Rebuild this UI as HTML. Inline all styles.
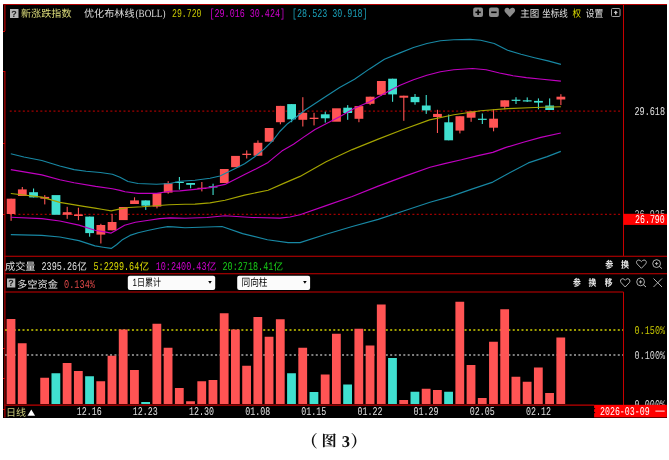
<!DOCTYPE html>
<html><head><meta charset="utf-8"><title>chart</title>
<style>
html,body{margin:0;padding:0;background:#fff;}
body{width:669px;height:460px;position:relative;overflow:hidden;}
</style></head><body>
<svg width="669" height="460" viewBox="0 0 669 460" text-rendering="geometricPrecision" style="position:absolute;left:0;top:0;will-change:transform">
<rect x="3" y="4" width="664" height="414" fill="#000"/>
<g shape-rendering="crispEdges">
<rect x="3" y="4" width="664" height="1.2" fill="#b40000"/>
</g>
<rect x="4.1" y="4" width="1.5" height="27" fill="#900000"/>
<rect x="4.1" y="71" width="1.5" height="346.5" fill="#900000"/>
<g shape-rendering="crispEdges">
<rect x="3" y="30.5" width="2" height="1" fill="#d00000"/>
<rect x="3" y="71" width="2" height="1" fill="#d00000"/>
<rect x="3" y="143" width="2" height="1" fill="#d00000"/>
<rect x="3" y="214" width="2" height="1" fill="#d00000"/>
<rect x="3" y="347.5" width="2" height="1" fill="#d00000"/>
<rect x="3" y="378" width="2" height="1" fill="#d00000"/>
<rect x="3" y="408.5" width="2" height="1" fill="#d00000"/>
<rect x="623" y="5" width="1.2" height="251" fill="#c80000"/>
<rect x="623" y="292" width="1.2" height="112.5" fill="#c80000"/>
</g>
<rect x="4" y="255.7" width="663" height="1.2" fill="#a80000"/>
<rect x="4" y="273.1" width="663" height="1.2" fill="#a80000"/>
<rect x="4" y="291.4" width="619.5" height="1.2" fill="#a80000"/>
<rect x="4" y="404.4" width="590" height="1.5" fill="#a00000"/>
<line x1="9.7" y1="111.1" x2="622" y2="111.1" stroke="#a00000" stroke-width="1.3" stroke-dasharray="2,2.377"/>
<line x1="9.7" y1="214.4" x2="622" y2="214.4" stroke="#a00000" stroke-width="1.3" stroke-dasharray="2,2.377"/>
<line x1="5" y1="330" x2="623" y2="330" stroke="#9c9c00" stroke-width="1.8" stroke-dasharray="2,2.377"/>
<line x1="5" y1="355" x2="623" y2="355" stroke="#a8a8a8" stroke-width="1.6" stroke-dasharray="2,2.377"/>
<rect x="6.6" y="319" width="8.8" height="85" fill="#ff5454"/>
<rect x="17.82" y="343.25" width="8.8" height="60.75" fill="#ff5454"/>
<rect x="40.26" y="377.75" width="8.8" height="26.25" fill="#ff5454"/>
<rect x="51.48" y="373.25" width="8.8" height="30.75" fill="#40e0d0"/>
<rect x="62.7" y="363" width="8.8" height="41" fill="#ff5454"/>
<rect x="73.92" y="371" width="8.8" height="33" fill="#ff5454"/>
<rect x="85.14" y="376.25" width="8.8" height="27.75" fill="#40e0d0"/>
<rect x="96.36" y="381.25" width="8.8" height="22.75" fill="#ff5454"/>
<rect x="107.58" y="355.75" width="8.8" height="48.25" fill="#ff5454"/>
<rect x="118.8" y="329.5" width="8.8" height="74.5" fill="#ff5454"/>
<rect x="130.02" y="370" width="8.8" height="34" fill="#ff5454"/>
<rect x="141.24" y="402" width="8.8" height="2" fill="#40e0d0"/>
<rect x="152.46" y="323.75" width="8.8" height="80.25" fill="#ff5454"/>
<rect x="163.68" y="347.75" width="8.8" height="56.25" fill="#ff5454"/>
<rect x="174.9" y="388" width="8.8" height="16" fill="#ff5454"/>
<rect x="186.12" y="401.25" width="8.8" height="2.75" fill="#ff5454"/>
<rect x="197.34" y="381.25" width="8.8" height="22.75" fill="#ff5454"/>
<rect x="208.56" y="380" width="8.8" height="24" fill="#ff5454"/>
<rect x="219.78" y="313.25" width="8.8" height="90.75" fill="#ff5454"/>
<rect x="231" y="329.5" width="8.8" height="74.5" fill="#ff5454"/>
<rect x="242.22" y="365.75" width="8.8" height="38.25" fill="#ff5454"/>
<rect x="253.44" y="317" width="8.8" height="87" fill="#ff5454"/>
<rect x="264.66" y="336.75" width="8.8" height="67.25" fill="#ff5454"/>
<rect x="275.88" y="319.25" width="8.8" height="84.75" fill="#ff5454"/>
<rect x="287.1" y="373.25" width="8.8" height="30.75" fill="#40e0d0"/>
<rect x="298.32" y="347.75" width="8.8" height="56.25" fill="#ff5454"/>
<rect x="309.54" y="392" width="8.8" height="12" fill="#40e0d0"/>
<rect x="320.76" y="374.5" width="8.8" height="29.5" fill="#ff5454"/>
<rect x="331.98" y="333.75" width="8.8" height="70.25" fill="#ff5454"/>
<rect x="343.2" y="384.5" width="8.8" height="19.5" fill="#40e0d0"/>
<rect x="354.42" y="328.75" width="8.8" height="75.25" fill="#ff5454"/>
<rect x="365.64" y="345.5" width="8.8" height="58.5" fill="#ff5454"/>
<rect x="376.86" y="304.5" width="8.8" height="99.5" fill="#ff5454"/>
<rect x="388.08" y="358" width="8.8" height="46" fill="#40e0d0"/>
<rect x="399.3" y="400" width="8.8" height="4" fill="#ff5454"/>
<rect x="410.52" y="391.75" width="8.8" height="12.25" fill="#40e0d0"/>
<rect x="421.74" y="388.75" width="8.8" height="15.25" fill="#ff5454"/>
<rect x="432.96" y="390" width="8.8" height="14" fill="#ff5454"/>
<rect x="444.18" y="391.75" width="8.8" height="12.25" fill="#40e0d0"/>
<rect x="455.4" y="301.75" width="8.8" height="102.25" fill="#ff5454"/>
<rect x="466.62" y="365" width="8.8" height="39" fill="#ff5454"/>
<rect x="477.84" y="398" width="8.8" height="6" fill="#ff5454"/>
<rect x="489.06" y="341.75" width="8.8" height="62.25" fill="#ff5454"/>
<rect x="500.28" y="309.25" width="8.8" height="94.75" fill="#ff5454"/>
<rect x="511.5" y="376.75" width="8.8" height="27.25" fill="#ff5454"/>
<rect x="522.72" y="381.75" width="8.8" height="22.25" fill="#ff5454"/>
<rect x="533.94" y="367.5" width="8.8" height="36.5" fill="#ff5454"/>
<rect x="545.16" y="393" width="8.8" height="11" fill="#ff5454"/>
<rect x="556.38" y="337.5" width="8.8" height="66.5" fill="#ff5454"/>
<rect x="10.55" y="198.7" width="1.1" height="22.1" fill="#ff5454"/>
<rect x="6.7" y="198.7" width="8.8" height="15.3" fill="#ff5454"/>
<rect x="21.77" y="187" width="1.1" height="9" fill="#ff5454"/>
<rect x="17.92" y="189.4" width="8.8" height="6.6" fill="#ff5454"/>
<rect x="32.99" y="188.5" width="1.1" height="8.9" fill="#40e0d0"/>
<rect x="29.14" y="192.2" width="8.8" height="5.2" fill="#40e0d0"/>
<rect x="44.21" y="195.1" width="1.1" height="9.3" fill="#ff5454"/>
<rect x="40.36" y="196.9" width="8.8" height="1.8" fill="#ff5454"/>
<rect x="51.58" y="195.1" width="8.8" height="19.7" fill="#40e0d0"/>
<rect x="66.65" y="206.8" width="1.1" height="12" fill="#ff5454"/>
<rect x="62.8" y="212.2" width="8.8" height="2.6" fill="#ff5454"/>
<rect x="77.87" y="207.7" width="1.1" height="12.5" fill="#ff5454"/>
<rect x="74.02" y="214.4" width="8.8" height="1.6" fill="#ff5454"/>
<rect x="89.09" y="216.6" width="1.1" height="20.1" fill="#40e0d0"/>
<rect x="85.24" y="216.6" width="8.8" height="16.5" fill="#40e0d0"/>
<rect x="100.31" y="223.8" width="1.1" height="19.7" fill="#ff5454"/>
<rect x="96.46" y="225" width="8.8" height="9.6" fill="#ff5454"/>
<rect x="111.53" y="213.8" width="1.1" height="16.5" fill="#ff5454"/>
<rect x="107.68" y="222" width="8.8" height="8.3" fill="#ff5454"/>
<rect x="118.9" y="207" width="8.8" height="13.1" fill="#ff5454"/>
<rect x="133.97" y="197.3" width="1.1" height="6.7" fill="#ff5454"/>
<rect x="130.12" y="200.4" width="8.8" height="3.6" fill="#ff5454"/>
<rect x="145.19" y="200.4" width="1.1" height="9.5" fill="#40e0d0"/>
<rect x="141.34" y="200.4" width="8.8" height="5.3" fill="#40e0d0"/>
<rect x="156.41" y="193.2" width="1.1" height="15.2" fill="#ff5454"/>
<rect x="152.56" y="193.2" width="8.8" height="13.4" fill="#ff5454"/>
<rect x="167.63" y="181.2" width="1.1" height="12.5" fill="#ff5454"/>
<rect x="163.78" y="183.3" width="8.8" height="9.3" fill="#ff5454"/>
<rect x="178.85" y="177" width="1.1" height="12.6" fill="#40e0d0"/>
<rect x="175" y="181.8" width="8.8" height="1.2" fill="#40e0d0"/>
<rect x="190.07" y="183" width="1.1" height="5.3" fill="#40e0d0"/>
<rect x="186.22" y="183" width="8.8" height="1.8" fill="#40e0d0"/>
<rect x="201.29" y="182" width="1.1" height="9.4" fill="#ff5454"/>
<rect x="197.44" y="187.8" width="8.8" height="1.2" fill="#ff5454"/>
<rect x="212.51" y="183.7" width="1.1" height="11.3" fill="#40e0d0"/>
<rect x="208.66" y="186.3" width="8.8" height="1.2" fill="#40e0d0"/>
<rect x="219.88" y="169" width="8.8" height="14" fill="#ff5454"/>
<rect x="231.1" y="155.9" width="8.8" height="11.3" fill="#ff5454"/>
<rect x="246.17" y="150.4" width="1.1" height="8.1" fill="#ff5454"/>
<rect x="242.32" y="153.7" width="8.8" height="1.3" fill="#ff5454"/>
<rect x="257.39" y="140.4" width="1.1" height="15.3" fill="#ff5454"/>
<rect x="253.54" y="142.8" width="8.8" height="12.9" fill="#ff5454"/>
<rect x="264.76" y="128" width="8.8" height="13.7" fill="#ff5454"/>
<rect x="279.83" y="105.9" width="1.1" height="18.4" fill="#ff5454"/>
<rect x="275.98" y="105.9" width="8.8" height="16.3" fill="#ff5454"/>
<rect x="291.05" y="104.1" width="1.1" height="18.1" fill="#40e0d0"/>
<rect x="287.2" y="104.1" width="8.8" height="15.2" fill="#40e0d0"/>
<rect x="302.27" y="97.2" width="1.1" height="29.3" fill="#ff5454"/>
<rect x="298.42" y="112.8" width="8.8" height="7" fill="#ff5454"/>
<rect x="313.49" y="112.8" width="1.1" height="12.6" fill="#ff5454"/>
<rect x="309.64" y="117.7" width="8.8" height="1.3" fill="#ff5454"/>
<rect x="324.71" y="111.7" width="1.1" height="10.9" fill="#40e0d0"/>
<rect x="320.86" y="114.3" width="8.8" height="4" fill="#40e0d0"/>
<rect x="332.08" y="108.3" width="8.8" height="13.4" fill="#ff5454"/>
<rect x="347.15" y="105.1" width="1.1" height="14.7" fill="#40e0d0"/>
<rect x="343.3" y="107.7" width="8.8" height="5.3" fill="#40e0d0"/>
<rect x="358.37" y="106.1" width="1.1" height="16.1" fill="#ff5454"/>
<rect x="354.52" y="106.1" width="8.8" height="12.7" fill="#ff5454"/>
<rect x="369.59" y="96.7" width="1.1" height="8.4" fill="#ff5454"/>
<rect x="365.74" y="96.7" width="8.8" height="7.1" fill="#ff5454"/>
<rect x="380.81" y="81" width="1.1" height="14.7" fill="#ff5454"/>
<rect x="376.96" y="81" width="8.8" height="13.8" fill="#ff5454"/>
<rect x="392.03" y="78.7" width="1.1" height="23.1" fill="#40e0d0"/>
<rect x="388.18" y="78.7" width="8.8" height="15.7" fill="#40e0d0"/>
<rect x="403.25" y="95.7" width="1.1" height="25.1" fill="#ff5454"/>
<rect x="399.4" y="95.7" width="8.8" height="2" fill="#ff5454"/>
<rect x="414.47" y="94" width="1.1" height="10.7" fill="#40e0d0"/>
<rect x="410.62" y="96.9" width="8.8" height="5.3" fill="#40e0d0"/>
<rect x="425.69" y="95" width="1.1" height="18.9" fill="#40e0d0"/>
<rect x="421.84" y="105.5" width="8.8" height="4.9" fill="#40e0d0"/>
<rect x="436.91" y="109.8" width="1.1" height="23.2" fill="#ff5454"/>
<rect x="433.06" y="113.9" width="8.8" height="3.1" fill="#ff5454"/>
<rect x="448.13" y="114.5" width="1.1" height="25.8" fill="#40e0d0"/>
<rect x="444.28" y="122.3" width="8.8" height="18" fill="#40e0d0"/>
<rect x="459.35" y="116.2" width="1.1" height="17.2" fill="#ff5454"/>
<rect x="455.5" y="116.2" width="8.8" height="14.4" fill="#ff5454"/>
<rect x="470.57" y="111.4" width="1.1" height="10.4" fill="#ff5454"/>
<rect x="466.72" y="111.4" width="8.8" height="6.3" fill="#ff5454"/>
<rect x="481.79" y="113.5" width="1.1" height="10.5" fill="#40e0d0"/>
<rect x="477.94" y="118.7" width="8.8" height="1.2" fill="#40e0d0"/>
<rect x="493.01" y="109.3" width="1.1" height="22" fill="#ff5454"/>
<rect x="489.16" y="118.7" width="8.8" height="9" fill="#ff5454"/>
<rect x="504.23" y="100.3" width="1.1" height="9" fill="#ff5454"/>
<rect x="500.38" y="100.3" width="8.8" height="6.5" fill="#ff5454"/>
<rect x="515.45" y="97.2" width="1.1" height="6.8" fill="#40e0d0"/>
<rect x="511.6" y="99.7" width="8.8" height="1.2" fill="#40e0d0"/>
<rect x="526.67" y="97.4" width="1.1" height="4.6" fill="#40e0d0"/>
<rect x="522.82" y="100.3" width="8.8" height="1.2" fill="#40e0d0"/>
<rect x="537.89" y="98.4" width="1.1" height="10.9" fill="#40e0d0"/>
<rect x="534.04" y="100.9" width="8.8" height="1.7" fill="#40e0d0"/>
<rect x="549.11" y="98.4" width="1.1" height="11.6" fill="#40e0d0"/>
<rect x="545.26" y="105.5" width="8.8" height="4.5" fill="#40e0d0"/>
<rect x="560.33" y="94.2" width="1.1" height="10.9" fill="#ff5454"/>
<rect x="556.48" y="96.7" width="8.8" height="2.8" fill="#ff5454"/>
<g fill="none" stroke-width="1.15" stroke-linejoin="round">
<polyline points="10.8,153.8 23.9,157 41.8,160.5 59.8,166 74.1,169.6 86.1,171.3 100.4,172.5 112.4,174.2 120,177.3 128,181.5 138,183.5 156.5,184.2 170,183.5 180,181.2 195,180.2 210,178.2 220,176 225,173.6 234.8,168.7 244.6,163.8 254.4,157 264.1,149.1 273,140.3 279.8,131.5 287.6,123.7 295.5,117.8 305.2,110 324.6,97.3 339.6,87.4 354.5,79.3 369.5,68.9 384.4,59.3 400,52.9 413.5,47.5 426.9,43.5 440.4,40.8 453.8,39.7 470,39.4 480.7,40.2 494.2,43.5 507.6,50.2 521,54.2 534.5,57.7 548,60.9 560.9,64.4" stroke="#1888a4"/>
<polyline points="10.8,234.6 41.8,235.4 59.8,237 78.9,240.6 95,245.9 103.1,247.2 111.2,248.4 116.5,244.8 121.9,240.1 130,235.4 138.1,232.7 148.8,230.3 159.6,228 167.7,226.6 173.1,226.9 185,227.7 222,226.5 242.6,233.6 267.4,239.8 288.1,242.6 300,242.6 326.1,234.3 352.2,226.5 378.2,219.4 404.3,210.8 430,202.2 450.9,196.4 471.8,189.1 492.8,182.1 507.4,174 528.3,162.9 547.2,156.6 560.8,151.4" stroke="#1888a4"/>
<polyline points="10.8,169.6 41.8,174.9 59.8,179.7 74.1,182.8 95.6,186.4 112.4,188.7 120,190.4 125,191.8 138,193.4 156.5,193.4 170,191.3 180,190.9 195,189.4 210,187.6 225,184.4 244.6,174.6 256.3,168.7 268.1,162.4 281.8,151.1 293.5,144.2 303.3,137.4 315,129.6 339.6,116.7 354.5,108.3 369.5,101.7 384.4,93.4 400,85.2 413.5,79.8 426.9,75.2 440.4,71.7 453.8,69.8 472.6,68.5 486.1,69.8 499.5,73 513,75.7 526.4,77.6 539.9,79 560.9,81.1" stroke="#c000c0"/>
<polyline points="10.8,217.2 41.8,218.6 59.8,221 78.9,225.1 95,230.3 103.1,231.6 111.2,233.1 116.5,230 124.6,225.3 135.4,222.3 148.8,220.3 159.6,218.6 170.4,217.9 185,218.2 207,217.5 225,215.8 252,217.5 280,218.1 290,217 300,214.7 326.1,205.6 352.2,196.5 378.2,186.1 404.3,176.4 430,167.2 444.6,163.6 461.4,159.8 478.1,155.6 492.8,152.4 505.3,147.6 524.2,142 540.9,137.4 560.8,133" stroke="#c000c0"/>
<polyline points="10.8,193.5 41.8,197.1 59.8,202.4 83.7,206.4 95,208.1 103.1,209.5 111.2,210.9 119.2,209.1 128.6,207.5 142.1,206.8 155.6,205.8 169,204.7 185,204.2 195,204.1 210,202.9 225,200.2 244.6,195.1 268.1,190.2 283.7,183.4 300,176.4 326.1,161.8 352.2,149.6 378.2,139.1 401.7,130 429.6,119.9 453.8,114.7 480.7,110.7 507.6,108.6 534.5,107.5 560.9,106.7" stroke="#a4a400"/>
</g>
<rect x="10" y="9" width="8.5" height="9" fill="#b4b4b4"/>
<text x="11.3" y="16.9" fill="#202020" font-size="9" font-family="'Liberation Sans', sans-serif" font-weight="bold">?</text>
<text x="21" y="17" fill="#d8d878" font-size="10.2" font-family="'Liberation Sans', 'Noto Sans CJK SC', sans-serif" textLength="50.5" lengthAdjust="spacingAndGlyphs">新涨跌指数</text>
<text x="84" y="17" fill="#dcdcdc" font-size="10.2" font-family="'Liberation Sans', 'Noto Sans CJK SC', sans-serif" textLength="50.5" lengthAdjust="spacingAndGlyphs">优化布林线</text>
<text x="135.5" y="16.8" fill="#dcdcdc" font-size="11" font-family="'Liberation Serif', serif" textLength="30" lengthAdjust="spacingAndGlyphs">(BOLL)</text>
<text x="172" y="17" fill="#c8c800" font-size="11.8" font-family="'Liberation Mono', monospace" textLength="29.5" lengthAdjust="spacingAndGlyphs">29.720</text>
<text x="209.5" y="17" fill="#d000d0" font-size="11.8" font-family="'Liberation Mono', monospace" textLength="75.5" lengthAdjust="spacingAndGlyphs">[29.016 30.424]</text>
<text x="292" y="17" fill="#1aa0b8" font-size="11.8" font-family="'Liberation Mono', monospace" textLength="75.5" lengthAdjust="spacingAndGlyphs">[28.523 30.918]</text>
<rect x="473.2" y="7.5" width="9.8" height="9.5" rx="2" fill="#8c8c8c"/>
<rect x="475.4" y="11.5" width="5.4" height="1.6" fill="#000"/>
<rect x="477.3" y="9.6" width="1.6" height="5.4" fill="#000"/>
<rect x="489" y="7.5" width="9.8" height="9.5" rx="2" fill="#8c8c8c"/>
<rect x="491.2" y="11.5" width="5.4" height="1.6" fill="#000"/>
<path d="M509.8,17.2 L505.2,12.3 C503.6,10.4 504.8,7.6 507.2,7.7 C508.4,7.8 509.3,8.6 509.8,9.4 C510.3,8.6 511.2,7.8 512.4,7.7 C514.8,7.6 516,10.4 514.4,12.3 Z" fill="#8c8c8c"/>
<text x="520.3" y="17" fill="#e0e0e0" font-size="10" font-family="'Liberation Sans', 'Noto Sans CJK SC', sans-serif" textLength="19" lengthAdjust="spacingAndGlyphs">主图</text>
<text x="542.3" y="17" fill="#e0e0e0" font-size="10" font-family="'Liberation Sans', 'Noto Sans CJK SC', sans-serif" textLength="25.5" lengthAdjust="spacingAndGlyphs">坐标线</text>
<text x="572.5" y="17" fill="#d8d800" font-size="10" font-family="'Liberation Sans', 'Noto Sans CJK SC', sans-serif" textLength="8.5" lengthAdjust="spacingAndGlyphs">权</text>
<text x="585.8" y="17" fill="#e0e0e0" font-size="10" font-family="'Liberation Sans', 'Noto Sans CJK SC', sans-serif" textLength="17.5" lengthAdjust="spacingAndGlyphs">设置</text>
<rect x="611.5" y="8.5" width="8.5" height="8" rx="1" fill="none" stroke="#a0a0a0" stroke-width="1"/>
<path d="M615.75,10.6 L613.6,13 L615,13 L615,14.6 L616.5,14.6 L616.5,13 L617.9,13 Z" fill="#c8c8c8"/>
<text x="634.5" y="114.8" fill="#e0e0e0" font-size="11.8" font-family="'Liberation Mono', monospace" textLength="30.5" lengthAdjust="spacingAndGlyphs">29.618</text>
<text x="634.5" y="217.8" fill="#c0c0c0" font-size="11.8" font-family="'Liberation Mono', monospace" textLength="30.5" lengthAdjust="spacingAndGlyphs">26.925</text>
<rect x="623.3" y="213.8" width="43.7" height="11.1" fill="#ff0000"/>
<text x="635" y="223" fill="#ffffff" font-size="11.8" font-family="'Liberation Mono', monospace" textLength="29.8" lengthAdjust="spacingAndGlyphs">26.790</text>
<text x="5" y="269.8" fill="#e0e0e0" font-size="10.2" font-family="'Liberation Sans', 'Noto Sans CJK SC', sans-serif" textLength="30.5" lengthAdjust="spacingAndGlyphs">成交量</text>
<text x="41.5" y="269.5" fill="#e0e0e0" font-size="11.8" font-family="'Liberation Mono', monospace" textLength="35.56" lengthAdjust="spacingAndGlyphs">2395.26</text>
<text x="77.36" y="269.8" fill="#e0e0e0" font-size="10.2" font-family="'Liberation Sans', 'Noto Sans CJK SC', sans-serif" textLength="9.6" lengthAdjust="spacingAndGlyphs">亿</text>
<text x="93.5" y="269.5" fill="#d8d800" font-size="11.8" font-family="'Liberation Mono', monospace" textLength="45.72" lengthAdjust="spacingAndGlyphs">5:2299.64</text>
<text x="139.52" y="269.8" fill="#d8d800" font-size="10.2" font-family="'Liberation Sans', 'Noto Sans CJK SC', sans-serif" textLength="9.6" lengthAdjust="spacingAndGlyphs">亿</text>
<text x="155.7" y="269.5" fill="#d000d0" font-size="11.8" font-family="'Liberation Mono', monospace" textLength="50.8" lengthAdjust="spacingAndGlyphs">10:2400.43</text>
<text x="206.8" y="269.8" fill="#d000d0" font-size="10.2" font-family="'Liberation Sans', 'Noto Sans CJK SC', sans-serif" textLength="9.6" lengthAdjust="spacingAndGlyphs">亿</text>
<text x="222.5" y="269.5" fill="#18cc18" font-size="11.8" font-family="'Liberation Mono', monospace" textLength="50.8" lengthAdjust="spacingAndGlyphs">20:2718.41</text>
<text x="273.6" y="269.8" fill="#18cc18" font-size="10.2" font-family="'Liberation Sans', 'Noto Sans CJK SC', sans-serif" textLength="9.6" lengthAdjust="spacingAndGlyphs">亿</text>
<text x="605.2" y="268" fill="#e8e8e8" font-size="9.5" font-family="'Liberation Sans', 'Noto Sans CJK SC', sans-serif" textLength="8" lengthAdjust="spacingAndGlyphs" font-weight="bold">参</text>
<text x="621" y="268" fill="#e8e8e8" font-size="9.5" font-family="'Liberation Sans', 'Noto Sans CJK SC', sans-serif" textLength="8" lengthAdjust="spacingAndGlyphs" font-weight="bold">换</text>
<path d="M641.4,268.3 L637.1,263.9 C635.8,262.3 636.7,259.9 638.8,260 C639.9,260.1 640.9,260.9 641.4,261.6 C641.9,260.9 642.9,260.1 644,260 C646.1,259.9 647,262.3 645.7,263.9 Z" fill="none" stroke="#c0c0c0" stroke-width="0.9"/>
<circle cx="656.6" cy="263.6" r="3.9" fill="none" stroke="#c0c0c0" stroke-width="0.9"/>
<line x1="659.4" y1="266.4" x2="661.9" y2="268.6" stroke="#c0c0c0" stroke-width="1"/>
<path d="M655,263.6 H658.2 M656.6,262 V265.2" stroke="#c0c0c0" stroke-width="0.9"/>
<rect x="7" y="278.5" width="8.3" height="9" fill="#b4b4b4"/>
<text x="8.2" y="286.3" fill="#202020" font-size="9" font-family="'Liberation Sans', sans-serif" font-weight="bold">?</text>
<text x="17" y="287.5" fill="#e0e0e0" font-size="10.2" font-family="'Liberation Sans', 'Noto Sans CJK SC', sans-serif" textLength="41" lengthAdjust="spacingAndGlyphs">多空资金</text>
<text x="64" y="287.5" fill="#e04848" font-size="11.8" font-family="'Liberation Mono', monospace" textLength="31" lengthAdjust="spacingAndGlyphs">0.134%</text>
<rect x="127.8" y="275.7" width="87.4" height="14.3" rx="2" fill="#fbfbfb"/>
<text x="132.5" y="285.9" fill="#000000" font-size="10.4" font-family="'Liberation Sans', 'Noto Sans CJK SC', sans-serif" textLength="28.5" lengthAdjust="spacingAndGlyphs">1日累计</text>
<path d="M208.2,281 L211.8,281 L210,283.8 Z" fill="#000"/>
<rect x="237.2" y="275.7" width="72.9" height="14.3" rx="2" fill="#fbfbfb"/>
<text x="241.5" y="285.9" fill="#000000" font-size="10.4" font-family="'Liberation Sans', 'Noto Sans CJK SC', sans-serif" textLength="26" lengthAdjust="spacingAndGlyphs">同向柱</text>
<path d="M303.1,281 L306.7,281 L304.9,283.8 Z" fill="#000"/>
<text x="573" y="286" fill="#e8e8e8" font-size="9.5" font-family="'Liberation Sans', 'Noto Sans CJK SC', sans-serif" textLength="7.8" lengthAdjust="spacingAndGlyphs" font-weight="bold">参</text>
<text x="588.6" y="286" fill="#e8e8e8" font-size="9.5" font-family="'Liberation Sans', 'Noto Sans CJK SC', sans-serif" textLength="7.8" lengthAdjust="spacingAndGlyphs" font-weight="bold">换</text>
<text x="604.8" y="286" fill="#e8e8e8" font-size="9.5" font-family="'Liberation Sans', 'Noto Sans CJK SC', sans-serif" textLength="7.8" lengthAdjust="spacingAndGlyphs" font-weight="bold">移</text>
<path d="M625.2,287 L621.1,282.6 C619.8,281 620.7,278.6 622.8,278.7 C623.9,278.8 624.7,279.6 625.2,280.3 C625.7,279.6 626.5,278.8 627.6,278.7 C629.7,278.6 630.6,281 629.3,282.6 Z" fill="none" stroke="#c0c0c0" stroke-width="0.9"/>
<circle cx="640.6" cy="281.9" r="3.9" fill="none" stroke="#c0c0c0" stroke-width="0.9"/>
<line x1="643.4" y1="284.7" x2="646" y2="287" stroke="#c0c0c0" stroke-width="1"/>
<path d="M639,281.9 H642.2 M640.6,280.3 V283.5" stroke="#c0c0c0" stroke-width="0.9"/>
<path d="M653.5,278.5 L662,287 M662,278.5 L653.5,287" stroke="#c0c0c0" stroke-width="0.9"/>
<text x="634.6" y="334" fill="#c8c800" font-size="11.8" font-family="'Liberation Mono', monospace" textLength="30.5" lengthAdjust="spacingAndGlyphs">0.150%</text>
<text x="634.6" y="359" fill="#d8d8d8" font-size="11.8" font-family="'Liberation Mono', monospace" textLength="30.5" lengthAdjust="spacingAndGlyphs">0.100%</text>
<text x="6" y="416.3" fill="#c8c878" font-size="10.2" font-family="'Liberation Sans', 'Noto Sans CJK SC', sans-serif" textLength="20" lengthAdjust="spacingAndGlyphs">日线</text>
<path d="M27.5,415.8 L31.3,409.5 L35.1,415.8 Z" fill="#ffffff"/>
<text x="76.7" y="415.3" fill="#e0e0e0" font-size="11.8" font-family="'Liberation Mono', monospace" textLength="25" lengthAdjust="spacingAndGlyphs">12.16</text>
<text x="132.85" y="415.3" fill="#e0e0e0" font-size="11.8" font-family="'Liberation Mono', monospace" textLength="25" lengthAdjust="spacingAndGlyphs">12.23</text>
<text x="189" y="415.3" fill="#e0e0e0" font-size="11.8" font-family="'Liberation Mono', monospace" textLength="25" lengthAdjust="spacingAndGlyphs">12.30</text>
<text x="245.15" y="415.3" fill="#e0e0e0" font-size="11.8" font-family="'Liberation Mono', monospace" textLength="25" lengthAdjust="spacingAndGlyphs">01.08</text>
<text x="301.3" y="415.3" fill="#e0e0e0" font-size="11.8" font-family="'Liberation Mono', monospace" textLength="25" lengthAdjust="spacingAndGlyphs">01.15</text>
<text x="357.45" y="415.3" fill="#e0e0e0" font-size="11.8" font-family="'Liberation Mono', monospace" textLength="25" lengthAdjust="spacingAndGlyphs">01.22</text>
<text x="413.6" y="415.3" fill="#e0e0e0" font-size="11.8" font-family="'Liberation Mono', monospace" textLength="25" lengthAdjust="spacingAndGlyphs">01.29</text>
<text x="469.75" y="415.3" fill="#e0e0e0" font-size="11.8" font-family="'Liberation Mono', monospace" textLength="25" lengthAdjust="spacingAndGlyphs">02.05</text>
<text x="525.9" y="415.3" fill="#e0e0e0" font-size="11.8" font-family="'Liberation Mono', monospace" textLength="25" lengthAdjust="spacingAndGlyphs">02.12</text>
<text x="634.6" y="408.3" fill="#d8d8d8" font-size="11.8" font-family="'Liberation Mono', monospace" textLength="30.5" lengthAdjust="spacingAndGlyphs">0.000%</text>
<rect x="594.1" y="404.8" width="72.8" height="12.6" fill="#ff0000"/>
<rect x="594.1" y="408" width="1" height="1.2" fill="#000"/><rect x="594.1" y="412" width="1" height="1.2" fill="#000"/>
<text x="600" y="414.8" fill="#ffffff" font-size="11.8" font-family="'Liberation Mono', monospace" textLength="49.6" lengthAdjust="spacingAndGlyphs">2026-03-09</text>
<text x="655" y="414.8" fill="#ffffff" font-size="10" font-family="'Liberation Sans', 'Noto Sans CJK SC', sans-serif" textLength="10" lengthAdjust="spacingAndGlyphs">一</text>
<text fill="#111" font-weight="bold" font-family="'Liberation Serif', 'Noto Serif CJK SC', serif"><tspan x="301.2" y="447.2" font-size="16.5" font-family="'Noto Serif CJK SC', serif">（</tspan><tspan x="321.6" y="446" font-size="15.2">图</tspan><tspan x="341.8" y="447" font-size="16.5">3</tspan><tspan x="350.5" y="447.2" font-size="16.5" font-family="'Noto Serif CJK SC', serif">）</tspan></text>
</svg>
</body></html>
